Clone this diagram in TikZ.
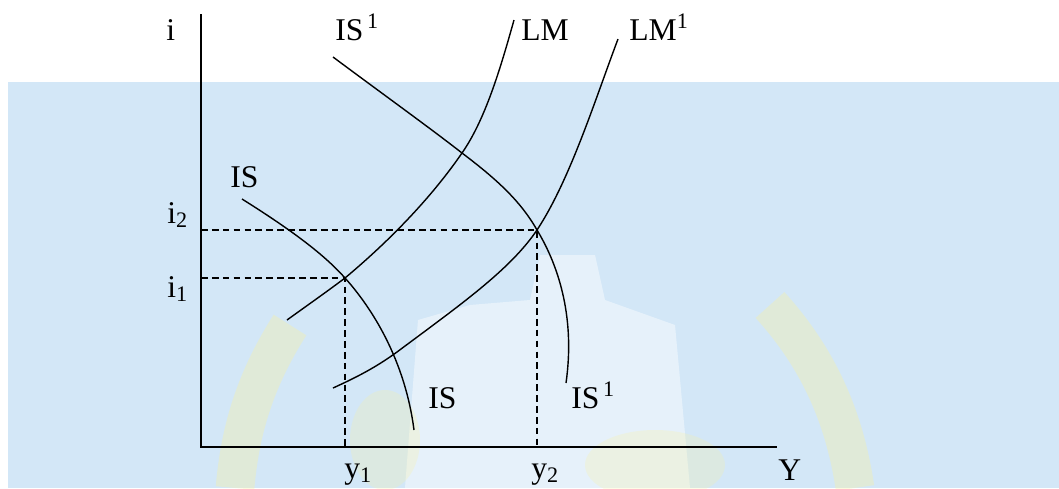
\documentclass[tikz,border=0pt]{standalone}
\usepackage{fontspec}
\setmainfont{Liberation Serif}
\usepackage{tikz}
\usetikzlibrary{positioning, calc}
\definecolor{bgblue}{RGB}{211, 231, 247}
\definecolor{wmyellow}{RGB}{250, 242, 160}

\tikzset{
    curve/.style={line width=0.8pt, black},
    axis/.style={line width=1pt, black},
    guide/.style={line width=0.8pt, black, dash pattern=on 3.8pt off 2.4pt},
    lbl/.style={anchor=base west, inner sep=0pt, font=\fontsize{18}{20}\selectfont}
}

\begin{document}
\begin{tikzpicture}[x=0.02cm, y=-0.02cm]
    \useasboundingbox (0,0) rectangle (1059,488);

    % Background and watermark
    \fill[bgblue] (8,82) rectangle (1059,488);
    \fill[white, opacity=0.45] (405,488) -- (418,320) -- (470,305) -- (530,300) -- (540,255) -- (595,255) -- (605,300) -- (675,325) -- (690,488) -- cycle;
    \draw[wmyellow, opacity=0.35, line width=22pt] (290,325) .. controls (255,380) and (240,430) .. (235,488);
    \draw[wmyellow, opacity=0.35, line width=22pt] (770,305) .. controls (820,360) and (845,420) .. (855,488);
    \fill[wmyellow, opacity=0.25] (385,440) ellipse (35 and 50);
    \fill[wmyellow, opacity=0.25] (655,465) ellipse (70 and 35);

    % Axes
    \coordinate (O) at (201,447);
    \coordinate (top) at (201,14);
    \coordinate (right) at (777,447);
    \draw[axis] (top) -- (O) -- (right);
    \node[lbl] (ilab) at (166,40) {i};
    \node[lbl] (Ylab) at (778,480) {Y};

    % Equilibria
    \coordinate (E1) at (345,278);
    \coordinate (E2) at (537,230);

    % Curves
    \draw[curve] (242,199) .. controls (285,226) and (322,252) .. (E1)
        .. controls (372,308) and (405,360) .. (414,430);
    \draw[curve] (333,57) .. controls (380,92) and (430,128) .. (462,153)
        .. controls (495,178) and (520,200) .. (E2)
        .. controls (560,268) and (575,320) .. (566,383);
    \draw[curve] (514,20) .. controls (500,70) and (485,120) .. (462,153)
        .. controls (438,188) and (400,232) .. (E1)
        .. controls (325,293) and (305,307) .. (287,320);
    \draw[curve] (618,39) .. controls (595,100) and (570,180) .. (E2)
        .. controls (510,270) and (460,305) .. (397,352)
        .. controls (375,368) and (355,378) .. (333,388);

    % Curve labels
    \node[lbl] (IStop) at (230,187) {IS};
    \node[lbl] (ISbot) at (428,408) {IS};
    \node[lbl] (IS1top) at (335,40) {IS\textsuperscript{\,1}};
    \node[lbl] (IS1bot) at (571,408) {IS\textsuperscript{\,1}};
    \node[lbl] (LM) at (521,40) {LM};
    \node[lbl] (LM1) at (629,40) {LM\textsuperscript{1}};

    % Dashed guides
    \draw[guide] (E1 -| O) -- (E1) -- (E1 |- O);
    \draw[guide] (E2 -| O) -- (E2) -- (E2 |- O);
    \node[lbl] (i1) at (167,297) {i\textsubscript{1}};
    \node[lbl] (i2) at (167,223) {i\textsubscript{2}};
    \node[lbl] (y1) at (344,478) {y\textsubscript{1}};
    \node[lbl] (y2) at (531,478) {y\textsubscript{2}};
\end{tikzpicture}
\end{document}
